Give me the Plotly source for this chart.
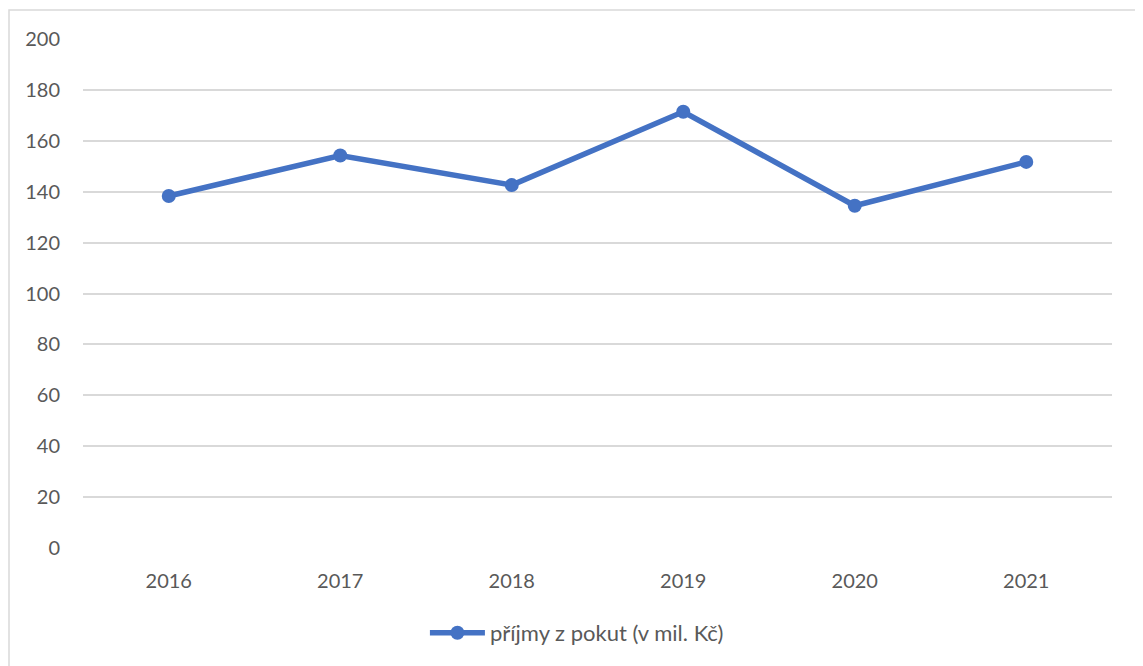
import plotly.graph_objects as go

years = ["2016", "2017", "2018", "2019", "2020", "2021"]
values = [138.3, 154.2, 142.6, 171.4, 134.5, 151.7]
series_name = "příjmy z pokut (v mil. Kč)"
y_ticks = [0, 20, 40, 60, 80, 100, 120, 140, 160, 180, 200]

fig = go.Figure()
fig.add_trace(go.Scatter(
    x=years, y=values, mode="lines+markers", name=series_name,
    line=dict(color="#4472C4", width=5.5),
    marker=dict(color="#4472C4", size=14),
))

font = dict(family="Lato, 'Open Sans', sans-serif", size=20, color="#595959")
L, T, W, H = 75, 31, 1029, 509
fig.update_layout(
    width=1143, height=666,
    margin=dict(l=L, r=1143 - L - W, t=T, b=666 - T - H),
    paper_bgcolor="white", plot_bgcolor="white",
    font=font,
    showlegend=True,
    legend=dict(orientation="h", x=0.48, xanchor="center", y=(T + H - 625) / H, yanchor="middle",
                font=dict(family=font["family"], size=22, color="#595959"),
                itemwidth=55, bgcolor="rgba(0,0,0,0)"),
    xaxis=dict(type="category", range=[-0.5, 5.5], showgrid=False, showline=False,
               zeroline=False, ticks="", ticklabelstandoff=19),
    yaxis=dict(range=[0, 200], tickvals=y_ticks, showgrid=True, gridcolor="#d9d9d9",
               gridwidth=1.5, zeroline=False, showline=False, ticks="",
               ticklabelstandoff=22),
    shapes=[dict(type="rect", xref="paper", yref="paper",
                 x0=(1 - L) / W, x1=(1130 - L) / W,
                 y0=(T + H - 700) / H, y1=(T + H - 2) / H,
                 line=dict(color="#d9d9d9", width=1.5), fillcolor="rgba(0,0,0,0)",
                 layer="below")],
)
fig.write_html("out.html")
